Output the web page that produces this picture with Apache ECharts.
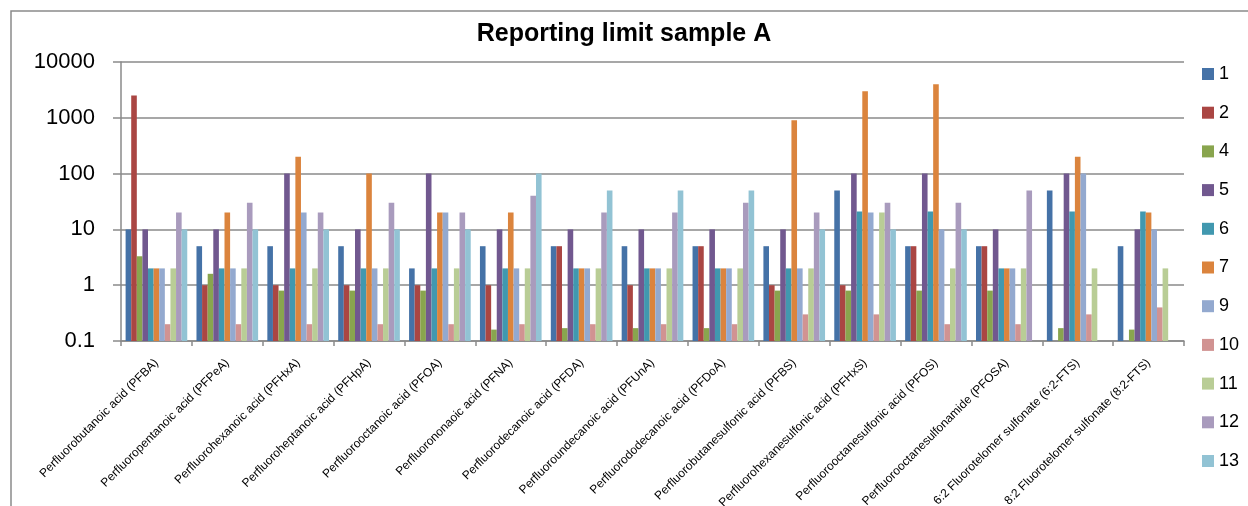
<!DOCTYPE html>
<html>
<head>
<meta charset="utf-8">
<script src="https://cdn.jsdelivr.net/npm/echarts@6/dist/echarts.min.js"></script>
<style>
  html, body { margin: 0; padding: 0; background: #fff; }
  #main { width: 1248px; height: 506px; }
</style>
</head>
<body>
<div id="main"></div>
<script>
// 化合物
var categories = [
	"Perfluorobutanoic acid (PFBA)",
	"Perfluoropentanoic acid (PFPeA)",
	"Perfluorohexanoic acid (PFHxA)",
	"Perfluoroheptanoic acid (PFHpA)",
	"Perfluorooctanoic acid (PFOA)",
	"Perfluorononaoic acid (PFNA)",
	"Perfluorodecanoic acid (PFDA)",
	"Perfluoroundecanoic acid (PFUnA)",
	"Perfluorododecanoic acid (PFDoA)",
	"Perfluorobutanesulfonic acid (PFBS)",
	"Perfluorohexanesulfonic acid (PFHxS)",
	"Perfluorooctanesulfonic acid (PFOS)",
	"Perfluorooctanesulfonamide (PFOSA)",
	"6:2 Fluorotelomer sulfonate (6:2-FTS)",
	"8:2 Fluorotelomer sulfonate (8:2-FTS)"
];

var seriesNames = ["1", "2", "4", "5", "6", "7", "9", "10", "11", "12", "13"];

var s1  = [10, 5, 5, 5, 2, 5, 5, 5, 5, 5, 50, 5, 5, 50, 5];
var s2  = [2500, 1, 1, 1, 1, 1, 5, 1, 5, 1, 1, 5, 5, null, null];
var s4  = [3.3, 1.6, 0.8, 0.8, 0.8, 0.16, 0.17, 0.17, 0.17, 0.8, 0.8, 0.8, 0.8, 0.17, 0.16];
var s5  = [10, 10, 100, 10, 100, 10, 10, 10, 10, 10, 100, 100, 10, 100, 10];
var s6  = [2, 2, 2, 2, 2, 2, 2, 2, 2, 2, 21, 21, 2, 21, 21];
var s7  = [2, 20, 200, 100, 20, 20, 2, 2, 2, 900, 3000, 4000, 2, 200, 20];
var s9  = [2, 2, 20, 2, 20, 2, 2, 2, 2, 2, 20, 10, 2, 100, 10];
var s10 = [0.2, 0.2, 0.2, 0.2, 0.2, 0.2, 0.2, 0.2, 0.2, 0.3, 0.3, 0.2, 0.2, 0.3, 0.4];
var s11 = [2, 2, 2, 2, 2, 2, 2, 2, 2, 2, 20, 2, 2, 2, 2];
var s12 = [20, 30, 20, 30, 20, 40, 20, 20, 30, 20, 30, 30, 50, null, null];
var s13 = [10, 10, 10, 10, 10, 100, 50, 50, 50, 10, 10, 10, null, null, null];

var seriesData = [s1, s2, s4, s5, s6, s7, s9, s10, s11, s12, s13];

var colors = ['#4572A7', '#AA4643', '#89A54E', '#71588F', '#4198AF', '#DB843D',
	'#93A9CF', '#D19392', '#B9CD96', '#A99BBD', '#92C3D4'];

var chart = echarts.init(document.getElementById('main'));

var series = seriesNames.map(function (name, i) {
	return {
		name: name,
		type: 'bar',
		barGap: '0%',
		barCategoryGap: '13%',
		data: seriesData[i].map(function (v) { return v == null ? '-' : v; }),
		itemStyle: { color: colors[i] }
	};
});

chart.setOption({
	animation: false,
	color: colors,
	title: {
		text: 'Reporting limit sample A',
		left: 'center',
		top: 17,
		textStyle: {
			fontFamily: 'Liberation Sans',
			fontSize: 25,
			fontWeight: 'bold',
			color: '#000'
		}
	},
	legend: {
		orient: 'vertical',
		left: 1197,
		top: 60,
		itemWidth: 12,
		itemHeight: 12,
		itemGap: 20.7,
		icon: 'rect',
		data: seriesNames,
		textStyle: {
			fontFamily: 'Liberation Sans',
			fontSize: 18,
			lineHeight: 18,
			color: '#000'
		}
	},
	grid: {
		left: 121,
		right: 64,
		top: 62,
		bottom: 165,
		outerBoundsMode: 'none'
	},
	xAxis: {
		type: 'category',
		data: categories,
		boundaryGap: true,
		axisLine: { lineStyle: { color: '#8a8a8a', width: 1.5 } },
		axisTick: { show: true, length: 5, lineStyle: { color: '#8a8a8a', width: 1.5 } },
		axisLabel: {
			interval: 0,
			rotate: 45,
			margin: 20,
			fontFamily: 'Liberation Sans',
			fontSize: 12,
			color: '#000'
		}
	},
	yAxis: {
		type: 'log',
		logBase: 10,
		min: 0.1,
		max: 10000,
		startValue: 0.1,
		axisLine: { show: true, lineStyle: { color: '#8a8a8a', width: 1.5 } },
		axisTick: { show: true, length: 8, lineStyle: { color: '#8a8a8a', width: 1.5 } },
		splitLine: { show: true, lineStyle: { color: '#8a8a8a', width: 1.5 } },
		axisLabel: {
			margin: 26,
			fontFamily: 'Liberation Sans',
			fontSize: 22,
			color: '#000',
			formatter: function (v) { return String(v); }
		}
	},
	graphic: [{
		type: 'rect',
		shape: { x: 11, y: 11, width: 1260, height: 520 },
		style: { fill: 'none', stroke: '#8a8a8a', lineWidth: 1.5 },
		silent: true
	}],
	series: series
});
</script>
</body>
</html>
